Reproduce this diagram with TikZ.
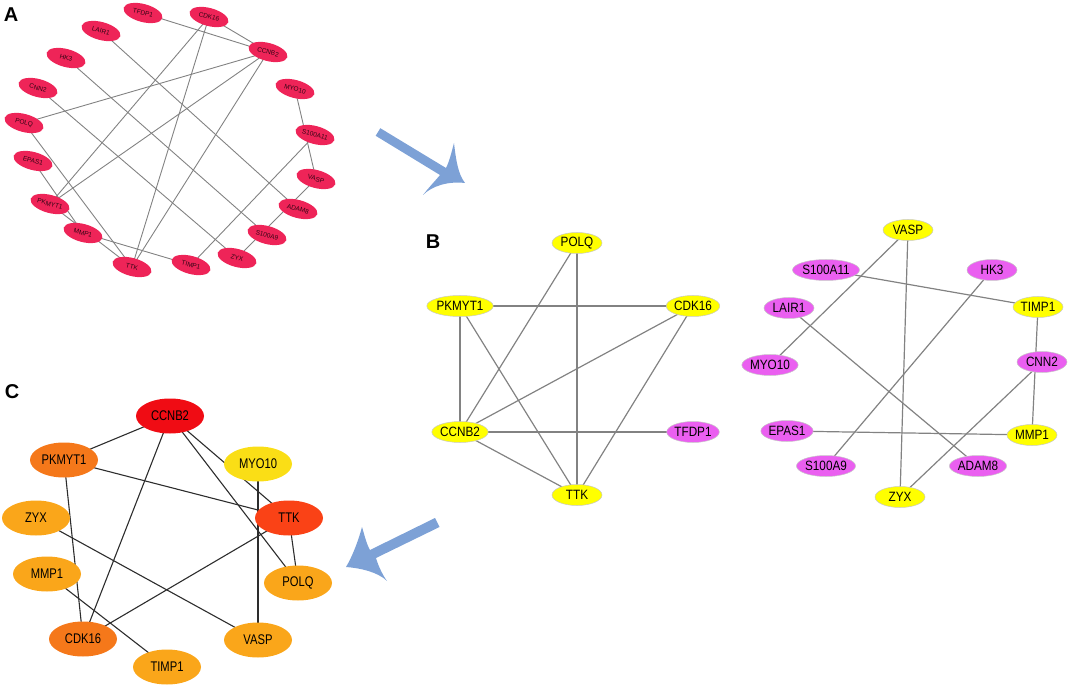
\documentclass[tikz,border=0pt]{standalone}
\usepackage{fontspec}
\setmainfont{Liberation Sans}
\usetikzlibrary{shapes.geometric,backgrounds}
\definecolor{acol}{RGB}{238,36,88}
\definecolor{atext}{RGB}{50,5,20}
\definecolor{byel}{RGB}{255,255,0}
\definecolor{bmag}{RGB}{234,95,240}
\definecolor{bbord}{RGB}{200,200,200}
\definecolor{cred}{RGB}{240,12,20}
\definecolor{cttk}{RGB}{250,66,22}
\definecolor{corange}{RGB}{245,120,26}
\definecolor{cyel}{RGB}{250,222,22}
\definecolor{camber}{RGB}{250,166,26}
\definecolor{arrowblue}{RGB}{125,161,214}
\definecolor{edgegray}{RGB}{130,130,130}
\definecolor{cedge}{RGB}{45,45,45}
\begin{document}
\begin{tikzpicture}[x=1pt,y=-1pt,
  anode/.style={ellipse, fill=acol, draw=none, minimum width=40pt, minimum height=18pt, inner sep=0pt, rotate=-15, text=atext, font=\fontsize{6.5}{7}\selectfont},
  bnode/.style={ellipse, draw=bbord, line width=0.5pt, minimum width=50pt, minimum height=21pt, inner sep=0pt, font=\fontsize{13.5}{14}\selectfont\addfontfeature{FakeStretch=0.87}},
  byn/.style={bnode, fill=byel},
  bmn/.style={bnode, fill=bmag},
  cnode/.style={ellipse, draw=none, minimum width=68pt, minimum height=35pt, inner sep=0pt, font=\fontsize{14}{14}\selectfont\addfontfeature{FakeStretch=0.8}},
  aedge/.style={draw=edgegray, line width=0.9pt},
  bedge/.style={draw=edgegray, line width=1.2pt},
  cedgestyle/.style={draw=cedge, line width=1.1pt},
  plabel/.style={font=\fontsize{20}{20}\selectfont\bfseries, inner sep=0pt},
  bigarrow/.style={fill=arrowblue, draw=none}]
\useasboundingbox (0,0) rectangle (1072,687);

% panel labels
\node[plabel] (labA) at (11,15) {A};
\node[plabel] (labB) at (433,242) {B};
\node[plabel] (labC) at (12,392) {C};

% ---------- Panel A ----------
\node[anode] (aTFDP1) at (143,13) {TFDP1};
\node[anode] (aLAIR1) at (101,31) {LAIR1};
\node[anode] (aHK3) at (66,58) {HK3};
\node[anode] (aCNN2) at (38,88) {CNN2};
\node[anode] (aPOLQ) at (24,123) {POLQ};
\node[anode] (aEPAS1) at (33,161) {EPAS1};
\node[anode] (aPKMYT1) at (50,204) {PKMYT1};
\node[anode] (aMMP1) at (83,233) {MMP1};
\node[anode] (aTTK) at (132,267) {TTK};
\node[anode] (aTIMP1) at (191,265) {TIMP1};
\node[anode] (aZYX) at (237,258) {ZYX};
\node[anode] (aS100A9) at (267,235) {S100A9};
\node[anode] (aADAM8) at (298,209) {ADAM8};
\node[anode] (aVASP) at (316,179) {VASP};
\node[anode] (aS100A11) at (315,135) {S100A11};
\node[anode] (aMYO10) at (295,89) {MYO10};
\node[anode] (aCCNB2) at (268,52) {CCNB2};
\node[anode] (aCDK16) at (209,17) {CDK16};

% ---------- Panel B ----------
\node[byn] (bPOLQ) at (577,243) {POLQ};
\node[byn] (bPKMYT1) at (460,306) {PKMYT1};
\node[byn] (bCDK16) at (693,306) {CDK16};
\node[byn] (bCCNB2) at (460,432) {CCNB2};
\node[bmn] (bTFDP1) at (693,432) {TFDP1};
\node[byn] (bTTK) at (577,495) {TTK};

\node[byn] (bVASP) at (908,230) {VASP};
\node[bmn] (bS100A11) at (826,270) {S100A11};
\node[bmn] (bHK3) at (992,270) {HK3};
\node[bmn] (bLAIR1) at (789,308) {LAIR1};
\node[byn] (bTIMP1) at (1038,307) {TIMP1};
\node[bmn] (bMYO10) at (770,365) {MYO10};
\node[bmn] (bCNN2) at (1042,362) {CNN2};
\node[bmn] (bEPAS1) at (787,431) {EPAS1};
\node[byn] (bMMP1) at (1032,435) {MMP1};
\node[bmn] (bS100A9) at (826,466) {S100A9};
\node[bmn] (bADAM8) at (978,466) {ADAM8};
\node[byn] (bZYX) at (900,497) {ZYX};

% ---------- Panel C ----------
\node[cnode, fill=cred] (cCCNB2) at (170,416) {CCNB2};
\node[cnode, fill=corange] (cPKMYT1) at (64,460) {PKMYT1};
\node[cnode, fill=cyel] (cMYO10) at (258,464) {MYO10};
\node[cnode, fill=camber] (cZYX) at (36,518) {ZYX};
\node[cnode, fill=cttk] (cTTK) at (289,518) {TTK};
\node[cnode, fill=camber] (cMMP1) at (47,574) {MMP1};
\node[cnode, fill=camber] (cPOLQ) at (298,583) {POLQ};
\node[cnode, fill=corange] (cCDK16) at (83,639) {CDK16};
\node[cnode, fill=camber] (cVASP) at (258,640) {VASP};
\node[cnode, fill=camber] (cTIMP1) at (167,667) {TIMP1};

\begin{scope}[on background layer]
  % A edges
  \foreach \u/\v in {TFDP1/CCNB2, CDK16/CCNB2, CDK16/PKMYT1, CDK16/TTK, POLQ/CCNB2, POLQ/TTK,
                     PKMYT1/CCNB2, PKMYT1/TTK, CCNB2/TTK, LAIR1/ADAM8, HK3/S100A9, CNN2/ZYX,
                     EPAS1/MMP1, MMP1/TIMP1, MYO10/VASP, S100A11/TIMP1, VASP/ZYX}
    \draw[aedge] (a\u.center) -- (a\v.center);
  % B edges
  \foreach \u/\v in {POLQ/CCNB2, POLQ/TTK, PKMYT1/CDK16, PKMYT1/CCNB2, PKMYT1/TTK, CDK16/CCNB2,
                     CDK16/TTK, CCNB2/TFDP1, CCNB2/TTK, VASP/MYO10, VASP/ZYX, S100A11/TIMP1,
                     HK3/S100A9, LAIR1/ADAM8, TIMP1/MMP1, CNN2/ZYX, EPAS1/MMP1}
    \draw[bedge] (b\u.center) -- (b\v.center);
  % C edges
  \foreach \u/\v in {CCNB2/PKMYT1, CCNB2/CDK16, CCNB2/TTK, CCNB2/POLQ, PKMYT1/TTK, PKMYT1/CDK16,
                     ZYX/VASP, MMP1/TIMP1, TTK/CDK16, MYO10/VASP, TTK/POLQ}
    \draw[cedgestyle] (c\u.center) -- (c\v.center);
\end{scope}

% big arrows
\fill[bigarrow] (380.3,128.2) -- (446,168)
  .. controls (450,160) and (452,150) .. (454,143)
  .. controls (456,160) and (458,174) .. (465,183)
  .. controls (448,181) and (432,186) .. (423,195)
  .. controls (430,186) and (436,180) .. (440,175)
  -- (375.7,135.8) -- cycle;
\fill[bigarrow] (435,518) -- (370,550)
  .. controls (366,543) and (364,533) .. (362,527)
  .. controls (358,542) and (352,557) .. (346,567)
  .. controls (360,568) and (378,572) .. (387,581)
  .. controls (382,574) and (378,565) .. (376,558)
  -- (439.5,527) -- cycle;
\end{tikzpicture}
\end{document}
